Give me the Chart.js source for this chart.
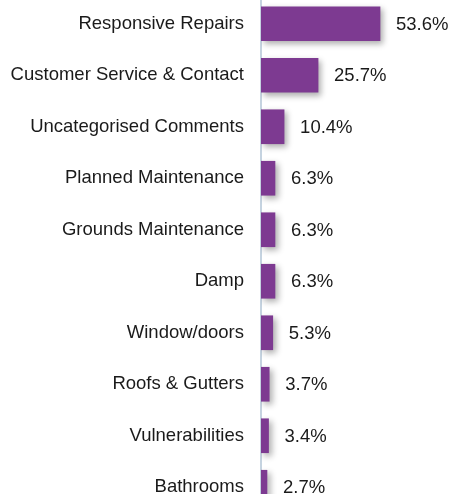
<!DOCTYPE html>
<html>
<head>
<meta charset="utf-8">
<script src="https://cdn.jsdelivr.net/npm/chart.js@4.4.1/dist/chart.umd.min.js"></script>
<style>
  html, body { margin: 0; padding: 0; background: #fff; overflow: hidden; }
  #wrap { position: relative; width: 452px; height: 515px; margin-top: -2px; }
</style>
</head>
<body>
<div id="wrap"><canvas id="grafico"></canvas></div>
<script>
const categorias = [
  'Responsive Repairs',
  'Customer Service & Contact',
  'Uncategorised Comments',
  'Planned Maintenance',
  'Grounds Maintenance',
  'Damp',
  'Window/doors',
  'Roofs & Gutters',
  'Vulnerabilities',
  'Bathrooms'
];
const percentuais = [53.6, 25.7, 10.4, 6.3, 6.3, 6.3, 5.3, 3.7, 3.4, 2.7];

const fonte = { family: 'Arial, "Liberation Sans", sans-serif', size: 18.5 };

/* sombra suave atrás das barras */
const sombraBarras = {
  id: 'sombraBarras',
  beforeDatasetDraw(chart) {
    const ctx = chart.ctx;
    ctx.save();
    ctx.shadowColor = 'rgba(0,0,0,0.32)';
    ctx.shadowBlur = 6;
    ctx.shadowOffsetX = 3;
    ctx.shadowOffsetY = 3;
  },
  afterDatasetDraw(chart) {
    chart.ctx.restore();
  }
};

/* rótulo com o valor à direita de cada barra */
const rotulos = {
  id: 'rotulos',
  afterDatasetsDraw(chart) {
    const ctx = chart.ctx;
    const meta = chart.getDatasetMeta(0);
    ctx.save();
    ctx.font = `${fonte.size}px ${fonte.family}`;
    ctx.fillStyle = '#1a1a1a';
    ctx.textAlign = 'left';
    ctx.textBaseline = 'middle';
    meta.data.forEach((bar, i) => {
      ctx.fillText(percentuais[i].toFixed(1) + '%', bar.x + 16, bar.y + 1);
    });
    ctx.restore();
  }
};

new Chart(document.getElementById('grafico'), {
  type: 'bar',
  data: {
    labels: categorias,
    datasets: [{
      data: percentuais,
      backgroundColor: '#7d3a91',
      barThickness: 34
    }]
  },
  options: {
    indexAxis: 'y',
    responsive: true,
    maintainAspectRatio: false,
    animation: false,
    layout: { padding: 0 },
    plugins: {
      legend: { display: false },
      tooltip: { enabled: false }
    },
    scales: {
      x: {
        display: false,
        min: 0,
        max: 86
      },
      y: {
        afterFit(scale) {
          scale.width = 261;
          scale.paddingTop = 0;
          scale.paddingBottom = 0;
        },
        grid: { display: false, drawTicks: true, tickLength: 17 },
        border: { display: true, color: '#c5d3e0', width: 2 },
        ticks: {
          color: '#1a1a1a',
          font: fonte,
          padding: 0
        }
      }
    }
  },
  plugins: [sombraBarras, rotulos]
});
</script>
</body>
</html>
